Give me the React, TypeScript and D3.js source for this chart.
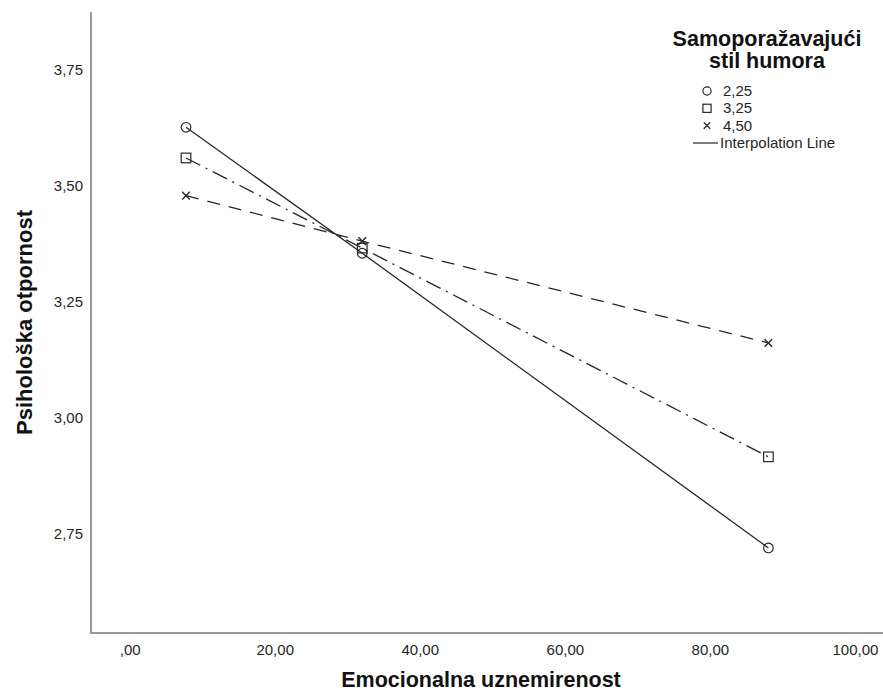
import React from 'react';
import * as d3 from 'd3';

// values
const xValues = [7.7, 32.0, 88.0];
const groupLabels = ['2,25', '3,25', '4,50'];
const lowValues = [3.625, 3.354, 2.72];
const midValues = [3.559, 3.365, 2.916];
const highValues = [3.478, 3.38, 3.161];
const xTicks = [0, 20, 40, 60, 80, 100];
const xTickLabels = [',00', '20,00', '40,00', '60,00', '80,00', '100,00'];
const yTicks = [2.75, 3.0, 3.25, 3.5, 3.75];
const yTickLabels = ['2,75', '3,00', '3,25', '3,50', '3,75'];

const W = 883;
const H = 697;
const FONT = '"Liberation Sans", Arial, sans-serif';
const INK = '#262626';
const AXIS = '#9a9a9a';

type Shape = 'circle' | 'square' | 'cross';

const Marker: React.FC<{ shape: Shape; x: number; y: number; s?: number }> = ({ shape, x, y, s = 1 }) => {
  if (shape === 'circle')
    return <circle cx={x} cy={y} r={4.8 * s} fill="none" stroke={INK} strokeWidth={1.2} />;
  if (shape === 'square')
    return (
      <rect x={x - 4.8 * s} y={y - 4.8 * s} width={9.6 * s} height={9.6 * s} fill="none" stroke={INK} strokeWidth={1.2} />
    );
  const d = 3.8 * s;
  return (
    <g stroke={INK} strokeWidth={1.4}>
      <line x1={x - d} y1={y - d} x2={x + d} y2={y + d} />
      <line x1={x - d} y1={y + d} x2={x + d} y2={y - d} />
    </g>
  );
};

export default function App() {
  const x = d3.scaleLinear().domain([-5.4, 103.8]).range([91, 883]);
  const y = d3.scaleLinear().domain([2.537, 3.873]).range([633, 12]);

  const series: { label: string; values: number[]; shape: Shape; dash: string }[] = [
    { label: groupLabels[0], values: lowValues, shape: 'circle', dash: 'none' },
    { label: groupLabels[1], values: midValues, shape: 'square', dash: '16,6,2,6' },
    { label: groupLabels[2], values: highValues, shape: 'cross', dash: '13,9' },
  ];

  const line = d3
    .line<number>()
    .x((_, i) => x(xValues[i]))
    .y((d) => y(d));

  return (
    <div style={{ position: 'absolute', left: 0, top: 0 }}>
      <svg width={W} height={H} style={{ display: 'block', background: '#fff' }} fontFamily={FONT}>
        {/* axes */}
        <line x1={x.range()[0]} y1={y(y.domain()[1])} x2={x.range()[0]} y2={y.range()[0] + 1} stroke={AXIS} strokeWidth={2} />
        <line x1={x.range()[0] - 1} y1={y.range()[0]} x2={x.range()[1]} y2={y.range()[0]} stroke={AXIS} strokeWidth={2} />

        {xTicks.map((t, i) => (
          <text key={t} x={x(t)} y={655} textAnchor="middle" fontSize={15} fill={INK}>
            {xTickLabels[i]}
          </text>
        ))}
        {yTicks.map((t, i) => (
          <text key={t} x={83} y={y(t) + 5.5} textAnchor="end" fontSize={15} fill={INK}>
            {yTickLabels[i]}
          </text>
        ))}

        <text x={481} y={687} textAnchor="middle" fontSize={21.5} fontWeight="bold" fill="#111">
          Emocionalna uznemirenost
        </text>
        <text
          transform={`translate(32, ${(y.range()[0] + y.range()[1]) / 2}) rotate(-90)`}
          textAnchor="middle"
          fontSize={22}
          fontWeight="bold"
          fill="#111"
        >
          Psihološka otpornost
        </text>

        {/* lines and markers */}
        {series.map((s) => (
          <g key={s.label}>
            <path d={line(s.values) || ''} fill="none" stroke={INK} strokeWidth={1.3} strokeDasharray={s.dash} />
            {s.values.map((v, i) => (
              <Marker key={i} shape={s.shape} x={x(xValues[i])} y={y(v)} />
            ))}
          </g>
        ))}

        {/* legend */}
        <g fill="#111">
          <text x={767} y={46} textAnchor="middle" fontSize={21.5} fontWeight="bold">
            Samoporažavajući
          </text>
          <text x={767} y={68} textAnchor="middle" fontSize={21.5} fontWeight="bold">
            stil humora
          </text>
        </g>
        {series.map((s, i) => (
          <g key={s.label}>
            <Marker shape={s.shape} x={707} y={91 + i * 17.3} s={0.85} />
            <text x={723} y={91 + i * 17.3 + 5} fontSize={15} fill={INK}>
              {s.label}
            </text>
          </g>
        ))}
        <line x1={693} y1={143} x2={718} y2={143} stroke={INK} strokeWidth={1.2} />
        <text x={720} y={148} fontSize={15} fill={INK}>
          Interpolation Line
        </text>
      </svg>
    </div>
  );
}
